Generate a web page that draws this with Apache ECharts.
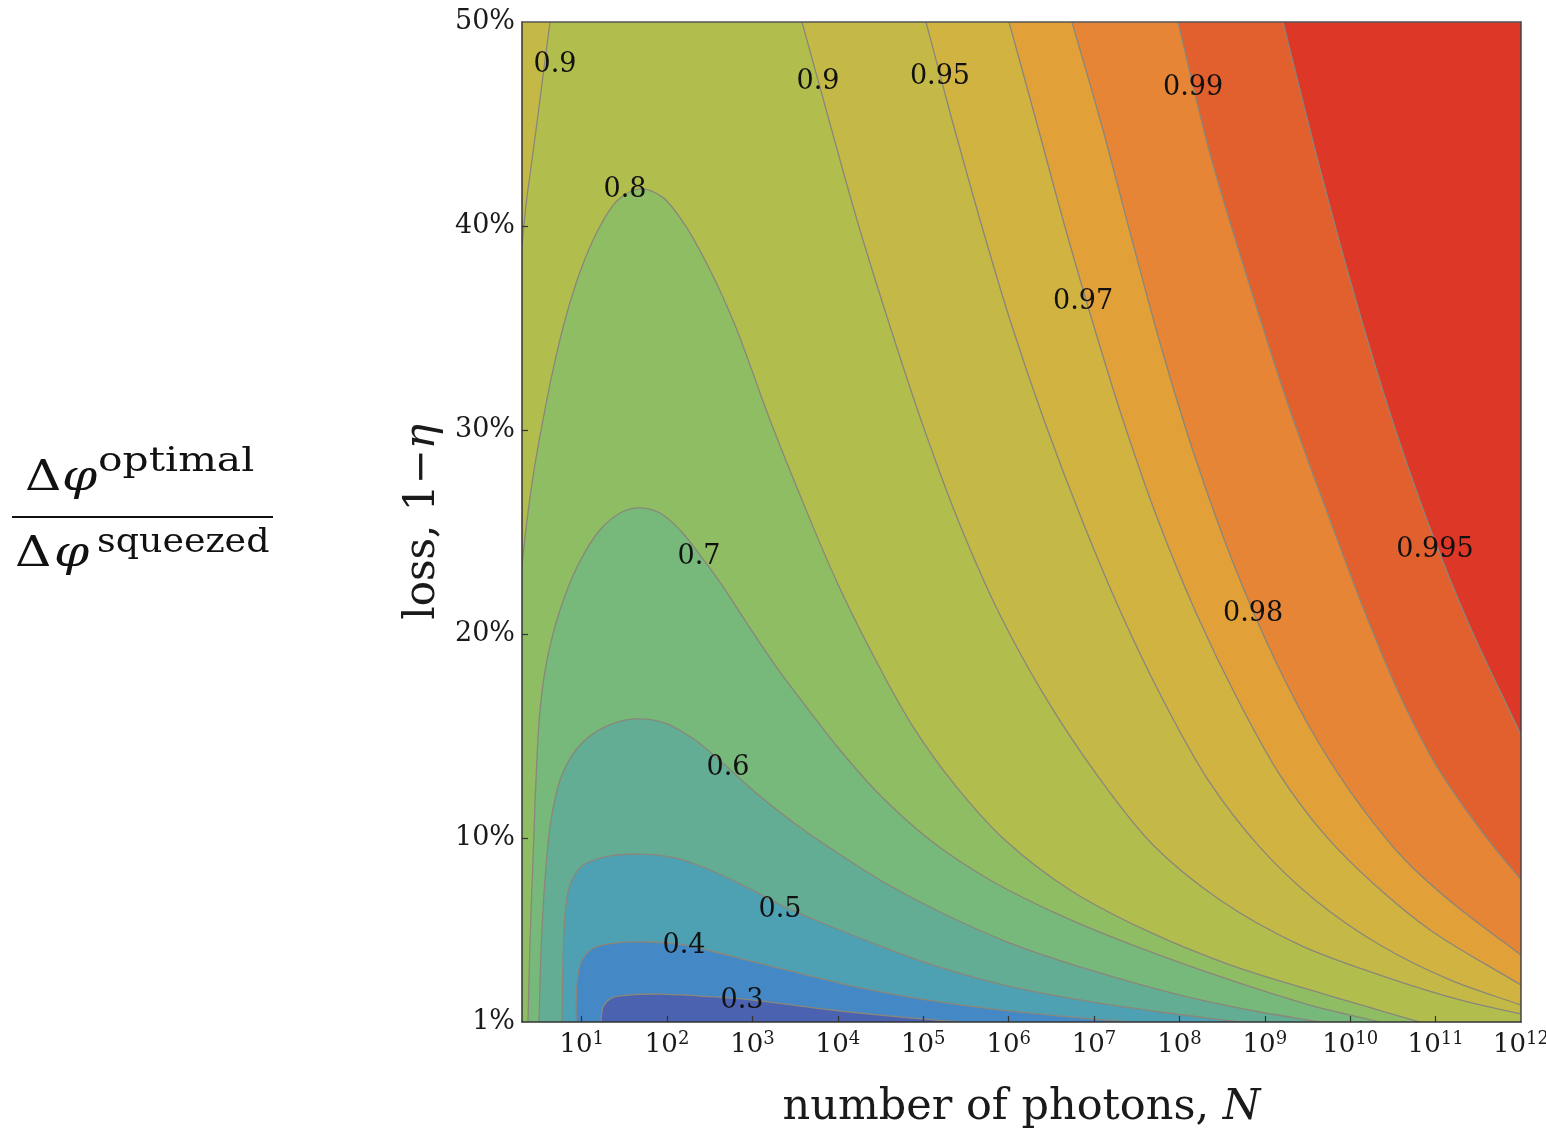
<!DOCTYPE html>
<html>
<head>
<meta charset="utf-8">
<script src="https://cdn.jsdelivr.net/npm/echarts@6/dist/echarts.min.js"></script>
<style>
  html, body { margin: 0; padding: 0; background: #ffffff; }
  #chart { width: 1546px; height: 1129px; }
</style>
</head>
<body>
<div id="chart"></div>
<script>
// Axis ranges: x is log10 of the photon number (N = 2 … 10^12), y is the loss in percent.
const X_MIN = Math.log10(2), X_MAX = 12, Y_MIN = 1, Y_MAX = 50;
const xTickExponents = [1, 2, 3, 4, 5, 6, 7, 8, 9, 10, 11];
const xLabelExponents = [1, 2, 3, 4, 5, 6, 7, 8, 9, 10, 11, 12];
const yTickValues = [10, 20, 30, 40];
const yLabelValues = [1, 10, 20, 30, 40, 50];

// Contour levels of the ratio Δφ_optimal / Δφ_squeezed
const levels = [0.3, 0.4, 0.5, 0.6, 0.7, 0.8, 0.9, 0.95, 0.97, 0.98, 0.99, 0.995];

// Contour lines, points are [log10 N, loss %]
const contour030 = [[1.226,1.0],[1.250,1.73],[1.355,2.18],[1.566,2.32],[1.917,2.37],[2.386,2.27],[2.877,2.13],[3.557,1.78],[4.142,1.49],[4.845,1.20],[5.430,1.0]];
const contour040 = [[0.933,1.0],[0.945,2.81],[0.992,3.94],[1.121,4.58],[1.390,4.87],[1.800,4.92],[2.210,4.77],[2.561,4.43],[2.971,3.99],[3.346,3.60],[4.119,2.81],[4.962,2.13],[5.899,1.59],[6.836,1.20],[7.421,1.0]];
const contour050 = [[0.769,1.0],[0.781,4.04],[0.805,6.24],[0.863,7.71],[1.004,8.64],[1.273,9.09],[1.683,9.23],[2.093,9.04],[2.561,8.35],[2.971,7.52],[3.334,6.73],[3.791,5.90],[4.376,4.92],[5.079,3.84],[5.899,2.86],[6.836,2.08],[7.773,1.49],[8.709,1.0]];
const contour060 = [[0.500,1.0],[0.524,4.53],[0.570,7.96],[0.641,10.90],[0.769,13.10],[0.980,14.57],[1.273,15.46],[1.624,15.85],[1.976,15.65],[2.327,14.82],[2.678,13.59],[3.030,12.27],[3.440,10.90],[3.908,9.53],[4.494,7.96],[5.196,6.39],[6.016,4.87],[6.953,3.55],[8.007,2.32],[8.944,1.49],[9.646,1.0]];
const contour070 = [[0.371,1.0],[0.395,5.02],[0.430,8.94],[0.465,12.86],[0.512,16.29],[0.594,18.74],[0.746,21.19],[0.957,23.39],[1.214,25.11],[1.472,25.99],[1.683,26.19],[1.917,25.94],[2.151,25.11],[2.386,23.88],[2.643,22.41],[2.948,20.45],[3.264,18.49],[3.615,16.53],[4.025,14.33],[4.493,12.12],[5.079,9.92],[5.782,7.96],[6.601,6.24],[7.538,4.63],[8.592,3.06],[9.529,1.83],[10.349,1.0]];
const contour080 = [[0.301,23.39],[0.360,25.60],[0.442,28.05],[0.547,30.50],[0.664,32.95],[0.805,35.40],[0.980,37.75],[1.191,39.81],[1.425,41.28],[1.683,41.82],[1.941,41.43],[2.210,40.05],[2.503,37.85],[2.795,35.15],[3.205,30.50],[3.580,26.58],[3.978,22.66],[4.412,18.98],[4.868,15.55],[5.372,12.61],[5.957,9.92],[6.719,7.47],[7.597,5.51],[8.534,3.89],[9.529,2.57],[10.817,1.0]];
const contour090Left = [[0.301,39.07],[0.348,41.03],[0.418,43.24],[0.488,45.44],[0.559,47.75],[0.629,50.0]];
const contour090Right = [[3.580,50.0],[3.896,45.20],[4.224,40.30],[4.587,35.40],[4.974,30.50],[5.407,25.60],[5.899,20.94],[6.449,16.78],[7.035,13.10],[7.691,9.67],[8.475,6.98],[9.412,4.77],[10.349,3.30],[11.286,2.08],[12.0,1.39]];
const contour095 = [[5.032,50.0],[5.337,45.20],[5.665,40.30],[6.016,35.40],[6.414,30.50],[6.859,25.60],[7.328,20.94],[7.808,16.78],[8.335,12.86],[8.920,9.67],[9.588,6.98],[10.349,4.77],[11.169,3.06],[12.0,1.83]];
const contour097 = [[6.004,50.0],[6.320,45.20],[6.637,40.30],[6.976,35.40],[7.339,30.50],[7.749,25.60],[8.206,20.94],[8.686,16.78],[9.178,13.10],[9.705,10.16],[10.290,7.71],[10.935,5.51],[12.0,2.81]];
const contour098 = [[6.742,50.0],[7.105,44.71],[7.445,39.32],[7.796,33.93],[8.194,28.54],[8.639,23.39],[9.119,18.74],[9.611,14.82],[10.115,11.63],[10.642,8.94],[11.227,6.73],[12.0,4.28]];
const contour099 = [[7.983,50.0],[8.346,43.73],[8.803,37.36],[9.295,30.99],[9.764,25.60],[10.208,20.70],[10.607,16.78],[11.017,13.50],[11.555,10.26],[12.0,7.96]];
const contour0995 = [[9.213,50.0],[9.588,43.73],[9.998,37.36],[10.454,30.99],[10.899,25.60],[11.368,20.70],[12.0,15.06]];

// Level label anchors: [level, log10 N, loss %]
const contourLabels = [
  [0.9, 0.687, 47.89], [0.9, 3.767, 47.06], [0.95, 5.196, 47.31], [0.99, 8.159, 46.77],
  [0.8, 1.507, 41.77], [0.97, 6.871, 36.28], [0.7, 2.374, 23.79], [0.995, 10.993, 24.13],
  [0.98, 8.862, 20.99], [0.6, 2.713, 13.45], [0.5, 3.322, 6.49], [0.4, 2.198, 4.73],
  [0.3, 2.878, 2.03]
];

// Band colours, from the lowest band (< 0.3) up to the top band (> 0.995)
const bandColors = ['#4a62af', '#4488c6', '#4ea0b3', '#63ad94', '#77b87b', '#8fbd64',
                    '#b1be4e', '#c4b946', '#d0b341', '#e2a038', '#e58535', '#e2602d', '#dc3727'];

const BL = [X_MIN, Y_MIN], BR = [X_MAX, Y_MIN], TL = [X_MIN, Y_MAX], TR = [X_MAX, Y_MAX];

// Each region is the set where the ratio lies below its level; painted from the highest level down.
const fillRegions = [
  { level: 1, color: bandColors[12], parts: [BL, BR, TR, TL] },
  { level: 0.995, color: bandColors[11], parts: [contour0995, BR, BL, TL] },
  { level: 0.99, color: bandColors[10], parts: [contour099, BR, BL, TL] },
  { level: 0.98, color: bandColors[9], parts: [contour098, BR, BL, TL] },
  { level: 0.97, color: bandColors[8], parts: [contour097, BR, BL, TL] },
  { level: 0.95, color: bandColors[7], parts: [contour095, BR, BL, TL] },
  { level: 0.9, color: bandColors[6], parts: [BL, contour090Left, contour090Right, BR] },
  { level: 0.8, color: bandColors[5], parts: [BL, contour080] },
  { level: 0.7, color: bandColors[4], parts: [contour070] },
  { level: 0.6, color: bandColors[3], parts: [contour060] },
  { level: 0.5, color: bandColors[2], parts: [contour050] },
  { level: 0.4, color: bandColors[1], parts: [contour040] },
  { level: 0.3, color: bandColors[0], parts: [contour030] }
];

const contourLines = [contour030, contour040, contour050, contour060, contour070, contour080,
  contour090Left, contour090Right, contour095, contour097, contour098, contour099, contour0995];

const isCurve = (part) => Array.isArray(part[0]);
const fmt = (p) => p[0].toFixed(2) + ',' + p[1].toFixed(2);
const dist = (a, b) => Math.hypot(b[0] - a[0], b[1] - a[1]);

// Smooth curve through pixel points: centripetal Catmull-Rom written as cubic Béziers
function curveSegments(px, start) {
  let d = (start ? 'M' : 'L') + fmt(px[0]);
  const n = px.length;
  for (let i = 0; i < n - 1; i++) {
    const p0 = px[Math.max(i - 1, 0)], p1 = px[i], p2 = px[i + 1], p3 = px[Math.min(i + 2, n - 1)];
    const d1 = Math.sqrt(dist(p0, p1)), d2 = Math.sqrt(dist(p1, p2)), d3 = Math.sqrt(dist(p2, p3));
    let c1, c2;
    if (d1 < 1e-6) {
      c1 = [p1[0] + (p2[0] - p1[0]) / 3, p1[1] + (p2[1] - p1[1]) / 3];
    } else {
      const a = 2 * d1 * d1 + 3 * d1 * d2 + d2 * d2, m = 3 * d1 * (d1 + d2);
      c1 = [(d1 * d1 * p2[0] - d2 * d2 * p0[0] + a * p1[0]) / m, (d1 * d1 * p2[1] - d2 * d2 * p0[1] + a * p1[1]) / m];
    }
    if (d3 < 1e-6) {
      c2 = [p2[0] + (p1[0] - p2[0]) / 3, p2[1] + (p1[1] - p2[1]) / 3];
    } else {
      const b = 2 * d3 * d3 + 3 * d3 * d2 + d2 * d2, m = 3 * d3 * (d3 + d2);
      c2 = [(d3 * d3 * p1[0] - d2 * d2 * p3[0] + b * p2[0]) / m, (d3 * d3 * p1[1] - d2 * d2 * p3[1] + b * p2[1]) / m];
    }
    d += 'C' + fmt(c1) + ' ' + fmt(c2) + ' ' + fmt(p2);
  }
  return d;
}

const SERIF = '"DejaVu Serif", "Liberation Serif", serif';

const chart = echarts.init(document.getElementById('chart'), null, { renderer: 'canvas' });

const option = {
  animation: false,
  backgroundColor: '#ffffff',
  grid: { left: 522, right: 25, top: 22, bottom: 107, containLabel: false, outerBoundsMode: 'none' },
  xAxis: [{
    type: 'value', min: X_MIN, max: X_MAX, position: 'bottom', z: 10,
    axisLine: { show: true, onZero: false, lineStyle: { color: '#333', width: 1.5 } },
    axisTick: { show: true, inside: true, length: 6, customValues: xTickExponents, lineStyle: { color: '#333', width: 1.2 } },
    splitLine: { show: false },
    axisLabel: {
      customValues: xLabelExponents, margin: 8,
      formatter: (v) => '{b|10}{s|' + Math.round(v) + '}',
      rich: {
        b: { fontFamily: SERIF, fontSize: 26, color: '#1a1a1a', lineHeight: 30 },
        s: { fontFamily: SERIF, fontSize: 18, color: '#1a1a1a', lineHeight: 10, verticalAlign: 'top' }
      }
    },
    name: 'number of photons, {i|N}', nameLocation: 'middle', nameGap: 64,
    nameTextStyle: {
      fontFamily: SERIF, fontSize: 43, color: '#1a1a1a',
      rich: { i: { fontFamily: SERIF, fontSize: 43, fontStyle: 'italic', color: '#1a1a1a' } }
    }
  }, {
    type: 'value', min: X_MIN, max: X_MAX, position: 'top', z: 10,
    axisLine: { show: true, onZero: false, lineStyle: { color: '#555', width: 1.5 } },
    axisTick: { show: false }, axisLabel: { show: false }, splitLine: { show: false }
  }],
  yAxis: [{
    type: 'value', min: Y_MIN, max: Y_MAX, position: 'left', z: 10,
    axisLine: { show: true, onZero: false, lineStyle: { color: '#333', width: 1.5 } },
    axisTick: { show: true, inside: true, length: 6, customValues: yTickValues, lineStyle: { color: '#333', width: 1.2 } },
    splitLine: { show: false },
    axisLabel: {
      customValues: yLabelValues, margin: 7,
      formatter: (v) => Math.round(v) + '%',
      fontFamily: SERIF, fontSize: 27, color: '#1a1a1a'
    },
    name: 'loss, 1\u2212{i|η}', nameLocation: 'middle', nameGap: 76, nameRotate: 90,
    nameTextStyle: {
      fontFamily: SERIF, fontSize: 42, color: '#1a1a1a',
      rich: { i: { fontFamily: SERIF, fontSize: 42, fontStyle: 'italic', color: '#1a1a1a' } }
    }
  }, {
    type: 'value', min: Y_MIN, max: Y_MAX, position: 'right', z: 10,
    axisLine: { show: true, onZero: false, lineStyle: { color: '#444', width: 1.5 } },
    axisTick: { show: false }, axisLabel: { show: false }, splitLine: { show: false }
  }],
  graphic: [
    { type: 'text', x: 25, y: 479, scaleX: 1.2, style: { text: 'Δ', font: '42px ' + SERIF, fill: '#111', align: 'left', verticalAlign: 'middle' } },
    { type: 'text', x: 62, y: 479, scaleX: 1.2, style: { text: 'φ', font: 'italic 42px ' + SERIF, fill: '#111', align: 'left', verticalAlign: 'middle' } },
    { type: 'text', x: 98, y: 462, scaleX: 1.2, style: { text: 'optimal', font: '34px ' + SERIF, fill: '#111', align: 'left', verticalAlign: 'middle' } },
    { type: 'line', shape: { x1: 12, y1: 517, x2: 273, y2: 517 }, style: { stroke: '#111', lineWidth: 2 } },
    { type: 'text', x: 15, y: 555, scaleX: 1.2, style: { text: 'Δ', font: '42px ' + SERIF, fill: '#111', align: 'left', verticalAlign: 'middle' } },
    { type: 'text', x: 54, y: 555, scaleX: 1.2, style: { text: 'φ', font: 'italic 42px ' + SERIF, fill: '#111', align: 'left', verticalAlign: 'middle' } },
    { type: 'text', x: 97, y: 543, scaleX: 1.07, style: { text: 'squeezed', font: '34px ' + SERIF, fill: '#111', align: 'left', verticalAlign: 'middle' } }
  ],
  series: [
    {
      // filled bands
      type: 'custom', name: 'bands', clip: true, z: 1,
      data: fillRegions.map((r) => [r.level]),
      renderItem: (params, api) => {
        const region = fillRegions[params.dataIndex];
        let d = '';
        region.parts.forEach((part, k) => {
          if (isCurve(part)) {
            d += curveSegments(part.map((p) => api.coord(p)), k === 0);
          } else {
            d += (k === 0 ? 'M' : 'L') + fmt(api.coord(part));
          }
        });
        d += 'Z';
        return { type: 'path', shape: { pathData: d }, style: { fill: region.color, stroke: null } };
      }
    },
    {
      // contour lines
      type: 'custom', name: 'contours', clip: true, z: 2,
      data: contourLines.map((c, i) => [i]),
      renderItem: (params, api) => {
        const line = contourLines[params.dataIndex];
        const d = curveSegments(line.map((p) => api.coord(p)), true);
        return { type: 'path', shape: { pathData: d }, style: { fill: null, stroke: '#8a877a', lineWidth: 1.3 } };
      }
    },
    {
      // level labels
      type: 'custom', name: 'labels', z: 3,
      encode: { x: 1, y: 2 },
      data: contourLabels,
      renderItem: (params, api) => {
        const p = api.coord([api.value(1), api.value(2)]);
        return {
          type: 'text', x: p[0], y: p[1],
          style: { text: String(api.value(0)), font: '27px ' + SERIF, fill: '#111', align: 'center', verticalAlign: 'middle' }
        };
      }
    }
  ]
};

chart.setOption(option);
</script>
</body>
</html>
